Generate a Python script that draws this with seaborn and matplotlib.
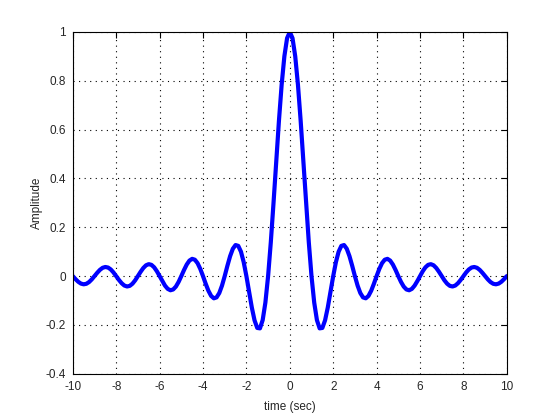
import numpy as np
import pandas as pd
import matplotlib
matplotlib.use("Agg")
import matplotlib.pyplot as plt
import seaborn as sns

# time samples (sec) and amplitude
time_sec = [
    -10.0, -9.875, -9.75, -9.625, -9.5, -9.375, -9.25, -9.125,
    -9.0, -8.875, -8.75, -8.625, -8.5, -8.375, -8.25, -8.125,
    -8.0, -7.875, -7.75, -7.625, -7.5, -7.375, -7.25, -7.125,
    -7.0, -6.875, -6.75, -6.625, -6.5, -6.375, -6.25, -6.125,
    -6.0, -5.875, -5.75, -5.625, -5.5, -5.375, -5.25, -5.125,
    -5.0, -4.875, -4.75, -4.625, -4.5, -4.375, -4.25, -4.125,
    -4.0, -3.875, -3.75, -3.625, -3.5, -3.375, -3.25, -3.125,
    -3.0, -2.875, -2.75, -2.625, -2.5, -2.375, -2.25, -2.125,
    -2.0, -1.875, -1.75, -1.625, -1.5, -1.375, -1.25, -1.125,
    -1.0, -0.875, -0.75, -0.625, -0.5, -0.375, -0.25, -0.125,
    0.0,
    0.125, 0.25, 0.375, 0.5, 0.625, 0.75, 0.875, 1.0,
    1.125, 1.25, 1.375, 1.5, 1.625, 1.75, 1.875, 2.0,
    2.125, 2.25, 2.375, 2.5, 2.625, 2.75, 2.875, 3.0,
    3.125, 3.25, 3.375, 3.5, 3.625, 3.75, 3.875, 4.0,
    4.125, 4.25, 4.375, 4.5, 4.625, 4.75, 4.875, 5.0,
    5.125, 5.25, 5.375, 5.5, 5.625, 5.75, 5.875, 6.0,
    6.125, 6.25, 6.375, 6.5, 6.625, 6.75, 6.875, 7.0,
    7.125, 7.25, 7.375, 7.5, 7.625, 7.75, 7.875, 8.0,
    8.125, 8.25, 8.375, 8.5, 8.625, 8.75, 8.875, 9.0,
    9.125, 9.25, 9.375, 9.5, 9.625, 9.75, 9.875, 10.0,
]
amplitude = [
    0.0, -0.0123, -0.0231, -0.0306, -0.0335, -0.0314, -0.0243, -0.0133,
    0.0, 0.0137, 0.0257, 0.0341, 0.0374, 0.0351, 0.0273, 0.0150,
    0.0, -0.0155, -0.0290, -0.0386, -0.0424, -0.0399, -0.0310, -0.0171,
    0.0, 0.0177, 0.0333, 0.0444, 0.0490, 0.0461, 0.0360, 0.0199,
    0.0, -0.0207, -0.0391, -0.0523, -0.0579, -0.0547, -0.0429, -0.0238,
    0.0, 0.0250, 0.0474, 0.0636, 0.0707, 0.0672, 0.0530, 0.0295,
    0.0, -0.0314, -0.0600, -0.0811, -0.0909, -0.0871, -0.0693, -0.0390,
    0.0, 0.0424, 0.0818, 0.1120, 0.1273, 0.1238, 0.1000, 0.0573,
    0.0, -0.0650, -0.1286, -0.1810, -0.2122, -0.2139, -0.1801, -0.1083,
    0.0, 0.1392, 0.3001, 0.4705, 0.6366, 0.7842, 0.9003, 0.9745,
    1.0,
    0.9745, 0.9003, 0.7842, 0.6366, 0.4705, 0.3001, 0.1392, 0.0,
    -0.1083, -0.1801, -0.2139, -0.2122, -0.1810, -0.1286, -0.0650, 0.0,
    0.0573, 0.1000, 0.1238, 0.1273, 0.1120, 0.0818, 0.0424, 0.0,
    -0.0390, -0.0693, -0.0871, -0.0909, -0.0811, -0.0600, -0.0314, 0.0,
    0.0295, 0.0530, 0.0672, 0.0707, 0.0636, 0.0474, 0.0250, 0.0,
    -0.0238, -0.0429, -0.0547, -0.0579, -0.0523, -0.0391, -0.0207, 0.0,
    0.0199, 0.0360, 0.0461, 0.0490, 0.0444, 0.0333, 0.0177, 0.0,
    -0.0171, -0.0310, -0.0399, -0.0424, -0.0386, -0.0290, -0.0155, 0.0,
    0.0150, 0.0273, 0.0351, 0.0374, 0.0341, 0.0257, 0.0137, 0.0,
    -0.0133, -0.0243, -0.0314, -0.0335, -0.0306, -0.0231, -0.0123, 0.0,
]

xtick_labels = ["-10", "-8", "-6", "-4", "-2", "0", "2", "4", "6", "8", "10"]
ytick_labels = ["-0.4", "-0.2", "0", "0.2", "0.4", "0.6", "0.8", "1"]

df = pd.DataFrame({"time": time_sec, "amp": amplitude})

sns.set_style("white")
plt.rcParams["font.family"] = ["Liberation Sans", "DejaVu Sans"]

fig = plt.figure(figsize=(5.6, 4.2), dpi=100)
ax = fig.add_axes([0.130, 0.110, 0.775, 0.814])

sns.lineplot(data=df, x="time", y="amp", color="#0000ff", linewidth=3, ax=ax)

ax.set_xlim(-10, 10)
ax.set_ylim(-0.4, 1)
ax.set_xticks(np.arange(-10, 11, 2))
ax.set_yticks(np.arange(-0.4, 1.01, 0.2))
ax.set_xticklabels(xtick_labels)
ax.set_yticklabels(ytick_labels)
ax.grid(True, linestyle=(0, (1, 4)), color="black", linewidth=0.8)
ax.tick_params(direction="in", length=4, labelsize=8.5, top=True, right=True,
               color="black", pad=5)
for s in ax.spines.values():
    s.set_color("black")
    s.set_linewidth(0.8)
ax.set_xlabel("time (sec)", fontsize=8.5, labelpad=6)
ax.set_ylabel("Amplitude", fontsize=8.5, labelpad=2)

fig.savefig("out.png", dpi=100)
